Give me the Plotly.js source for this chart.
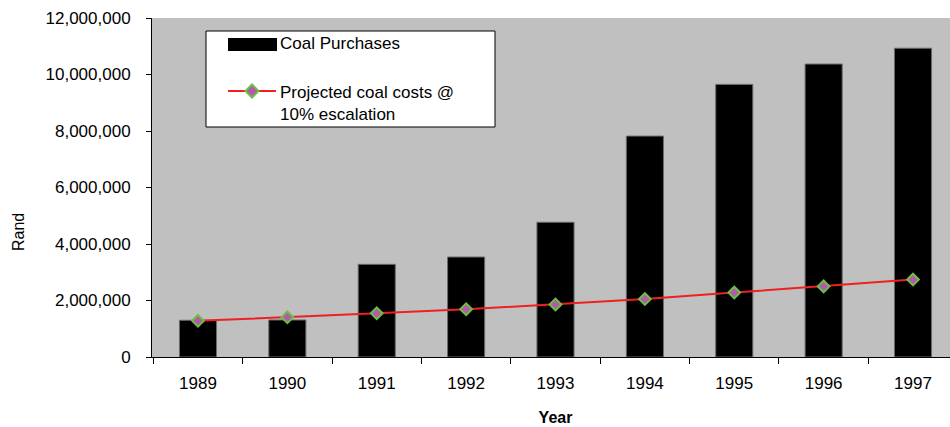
<!DOCTYPE html>
<html>
<head>
<meta charset="utf-8">
<script src="https://cdn.plot.ly/plotly-3.0.1.min.js"></script>
<style>
html,body{margin:0;padding:0;overflow:hidden;background:#fff;}
#chart{width:959px;height:427px;}
</style>
</head>
<body>
<div id="chart"></div>
<script>
// Data
var years = ['1989','1990','1991','1992','1993','1994','1995','1996','1997'];
var coalPurchases = [1300000,1310000,3280000,3540000,4770000,7820000,9650000,10370000,10930000];
var projectedCosts = [1280000,1405000,1547000,1690000,1860000,2050000,2280000,2500000,2740000];
var yTicks = [0,2000000,4000000,6000000,8000000,10000000,12000000];
var seriesNames = ['Coal Purchases','Projected coal costs @<br>10% escalation'];

var FONT = 'Arial, "Liberation Sans", sans-serif';
var W = 959, H = 427, ML = 152, MR = 0, MT = 18, MB = 70;
var PW = W - ML - MR, PH = H - MT - MB;
function px(x){ return (x - ML) / PW; }
function py(y){ return (H - MB - y) / PH; }

var traces = [
  {
    type: 'bar', x: years, y: coalPurchases, name: 'Coal Purchases',
    marker: {color: '#000000', line: {color: '#6a6a6a', width: 1}},
    showlegend: false, hoverinfo: 'x+y'
  },
  {
    type: 'scatter', mode: 'lines+markers', x: years, y: projectedCosts,
    name: 'Projected coal costs @ 10% escalation',
    line: {color: '#EE2020', width: 2},
    marker: {symbol: 'diamond', size: 9, color: '#B35AAA', line: {color: '#6CBF45', width: 2}},
    showlegend: false
  }
];

// Legend drawn with shapes and annotations to match the reference box
var dcx = 252, dcy = 91, dr = 6.5;
var shapes = [
  {type: 'rect', xref: 'paper', yref: 'paper', x0: px(206), x1: px(495), y0: py(31), y1: py(127),
   fillcolor: '#ffffff', line: {color: '#000000', width: 1}, layer: 'above'},
  {type: 'rect', xref: 'paper', yref: 'paper', x0: px(228), x1: px(277), y0: py(38), y1: py(51),
   fillcolor: '#000000', line: {width: 0}, layer: 'above'},
  {type: 'line', xref: 'paper', yref: 'paper', x0: px(228), x1: px(276), y0: py(91), y1: py(91),
   line: {color: '#EE2020', width: 2}, layer: 'above'},
  {type: 'path', xref: 'paper', yref: 'paper',
   path: 'M' + px(dcx) + ',' + py(dcy - dr) + ' L' + px(dcx + dr) + ',' + py(dcy) +
         ' L' + px(dcx) + ',' + py(dcy + dr) + ' L' + px(dcx - dr) + ',' + py(dcy) + ' Z',
   fillcolor: '#B35AAA', line: {color: '#6CBF45', width: 2}, layer: 'above'}
];

var annotations = [
  {xref: 'paper', yref: 'paper', x: px(278), y: py(44), xanchor: 'left', yanchor: 'middle',
   text: seriesNames[0], showarrow: false, font: {family: FONT, size: 17, color: '#000'}},
  {xref: 'paper', yref: 'paper', x: px(278), y: py(81), xanchor: 'left', yanchor: 'top', align: 'left',
   text: seriesNames[1], showarrow: false, font: {family: FONT, size: 17, color: '#000'}},
  {xref: 'paper', yref: 'paper', x: px(18), y: py(232), xanchor: 'center', yanchor: 'middle',
   text: 'Rand', textangle: -90, showarrow: false, font: {family: FONT, size: 16, color: '#000'}}
];

var layout = {
  width: W, height: H,
  margin: {l: ML, r: MR, t: MT, b: MB, pad: 0},
  paper_bgcolor: '#ffffff', plot_bgcolor: '#C0C0C0',
  font: {family: FONT, size: 17, color: '#000'},
  showlegend: false,
  bargap: 0.585,
  xaxis: {
    type: 'category', showgrid: false, zeroline: false,
    showline: true, linecolor: '#000', linewidth: 1,
    ticks: 'outside', tickson: 'boundaries', ticklen: 6, tickcolor: '#000', tickwidth: 1,
    ticklabelstandoff: 11,
    tickfont: {family: FONT, size: 17, color: '#000'},
    title: {text: '<b>Year</b>', font: {family: FONT, size: 16, color: '#000'}, standoff: 19}
  },
  yaxis: {
    range: [0, 12000000], tickvals: yTicks, tickformat: ',d',
    showgrid: false, zeroline: false,
    showline: true, linecolor: '#000', linewidth: 1,
    ticks: 'outside', ticklen: 5, tickcolor: '#000', tickwidth: 1,
    ticklabelstandoff: 12,
    tickfont: {family: FONT, size: 17, color: '#000'}
  },
  shapes: shapes,
  annotations: annotations
};

Plotly.newPlot('chart', traces, layout, {displayModeBar: false, staticPlot: true});
</script>
</body>
</html>
